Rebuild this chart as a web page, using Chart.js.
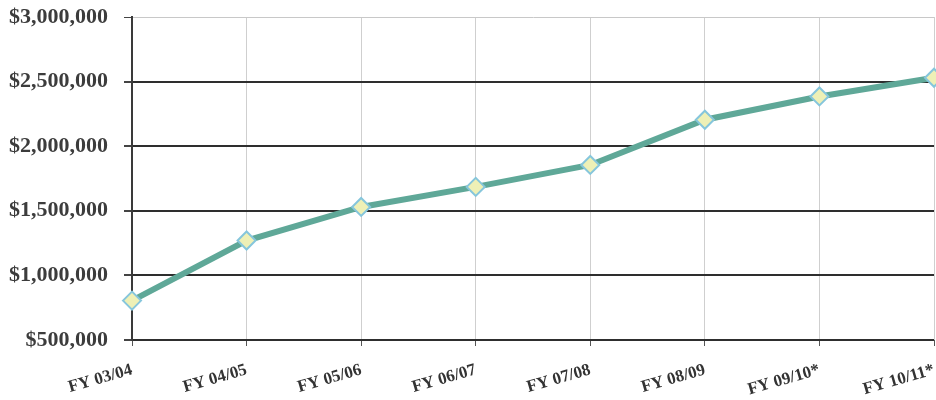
<!DOCTYPE html>
<html>
<head>
<meta charset="utf-8">
<script src="https://cdn.jsdelivr.net/npm/chart.js@4/dist/chart.umd.min.js"></script>
<style>
  html, body { margin: 0; padding: 0; background: #ffffff; }
  #wrap { width: 936px; height: 400px; }
</style>
</head>
<body>
<div id="wrap"><canvas id="chart" width="936" height="400"></canvas></div>
<script>
// Fiscal years on the horizontal axis (* = projected)
const fiscalYears = ['FY 03/04', 'FY 04/05', 'FY 05/06', 'FY 06/07', 'FY 07/08', 'FY 08/09', 'FY 09/10*', 'FY 10/11*'];
// Annual amounts in dollars
const amounts = [805000, 1270000, 1530000, 1685000, 1855000, 2205000, 2385000, 2530000];
// Vertical axis range and tick step
const yMin = 500000;
const yMax = 3000000;
const yStep = 500000;

const serif = '"Liberation Serif", "Times New Roman", serif';

new Chart(document.getElementById('chart'), {
  type: 'line',
  data: {
    labels: fiscalYears,
    datasets: [{
      data: amounts,
      borderColor: '#5fa898',
      borderWidth: 6,
      tension: 0,
      pointStyle: 'rectRot',
      pointRadius: 9,
      pointHoverRadius: 9,
      pointBackgroundColor: '#eef0b6',
      pointBorderColor: '#86c6dc',
      pointBorderWidth: 2,
      clip: false
    }]
  },
  options: {
    responsive: false,
    animation: false,
    devicePixelRatio: 1,
    layout: { autoPadding: false, padding: { top: 17, right: 2, left: 0, bottom: 0 } },
    plugins: {
      legend: { display: false },
      tooltip: { enabled: false }
    },
    scales: {
      x: {
        offset: false,
        afterFit: (s) => { s.height = 60; s.paddingRight = 0; s.paddingLeft = 0; },
        grid: {
          color: '#cfcfcf',
          lineWidth: 1,
          drawTicks: true,
          tickLength: 6,
          tickColor: '#555'
        },
        border: { display: false },
        ticks: {
          minRotation: 16,
          maxRotation: 16,
          padding: 14,
          color: '#333',
          font: { family: serif, size: 17, weight: 'bold' }
        }
      },
      y: {
        min: yMin,
        max: yMax,
        afterFit: (s) => { s.width = 132; s.paddingTop = 0; s.paddingBottom = 0; },
        grid: {
          color: (c) => (c.tick && c.tick.value === yMax ? '#c8c8c8' : '#2e2e2e'),
          lineWidth: (c) => (c.tick && c.tick.value === yMax ? 1 : 2),
          tickLength: 8,
          tickColor: '#444'
        },
        border: { display: true, color: '#3a3a3a', width: 2 },
        ticks: {
          stepSize: yStep,
          padding: 16,
          color: '#3c3c3c',
          font: { family: serif, size: 22, weight: 'bold' },
          callback: (v) => '$' + Number(v).toLocaleString('en-US')
        }
      }
    }
  }
});
</script>
</body>
</html>
